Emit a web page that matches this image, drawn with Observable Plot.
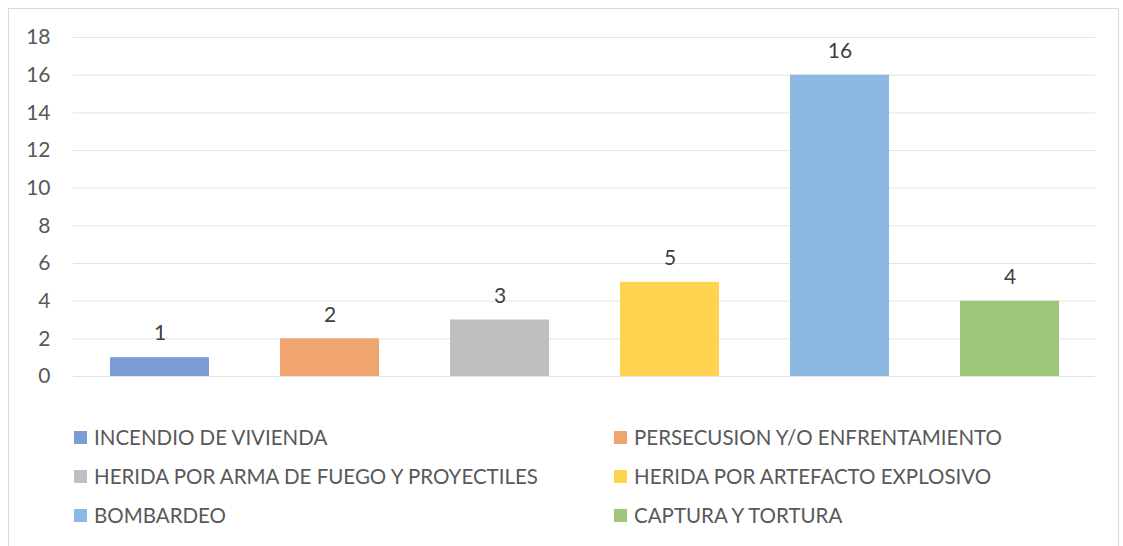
<!DOCTYPE html>
<html>
<head>
<meta charset="utf-8">
<script src="https://cdn.jsdelivr.net/npm/d3@7"></script>
<script src="https://cdn.jsdelivr.net/npm/@observablehq/plot@0.6"></script>
<style>
  html, body { margin: 0; padding: 0; background: #fff; }
  #wrap { position: relative; width: 1123px; height: 546px; overflow: hidden; font-family: Lato, "Liberation Sans", sans-serif; color: #595959; }
  #frame { position: absolute; left: 8px; top: 8px; width: 1111px; height: 560px; border: 1px solid #d9d9d9; box-sizing: border-box; }
  #chart { position: absolute; left: 0; top: 0; }
  .lg { position: absolute; display: flex; align-items: center; font-size: 20.5px; white-space: nowrap; }
  .sw { width: 13px; height: 13px; margin-right: 7px; flex: none; }
</style>
</head>
<body>
<div id="wrap">
  <div id="frame"></div>
  <div id="chart"></div>
  <div id="legend"></div>
</div>
<script>
const categories = [
  "INCENDIO DE VIVIENDA",
  "PERSECUSION Y/O ENFRENTAMIENTO",
  "HERIDA POR ARMA DE FUEGO Y PROYECTILES",
  "HERIDA POR ARTEFACTO EXPLOSIVO",
  "BOMBARDEO",
  "CAPTURA Y TORTURA"
];
const values = [1, 2, 3, 5, 16, 4];
const colors = ["#7B9CD5", "#F0A46E", "#BFBFBF", "#FFD24F", "#8DB8E2", "#9DC67B"];
const yTicks = [0, 2, 4, 6, 8, 10, 12, 14, 16, 18];

const data = categories.map((c, i) => ({category: c, value: values[i]}));

const plot = Plot.plot({
  width: 1123,
  height: 400,
  marginLeft: 73,
  marginRight: 28,
  marginTop: 37,
  marginBottom: 24,
  style: {fontFamily: "Lato, 'Liberation Sans', sans-serif", fontSize: "21px", color: "#595959", background: "transparent"},
  x: {domain: categories, axis: null, paddingInner: 0.42, paddingOuter: 0.21},
  y: {domain: [0, 18], ticks: yTicks, tickSize: 0, tickPadding: 23, label: null},
  color: {domain: categories, range: colors},
  marks: [
    Plot.ruleY(yTicks, {stroke: "#e4e4e4", strokeWidth: 1}),
    Plot.barY(data, {x: "category", y: "value", fill: "category"}),
    Plot.text(data, {x: "category", y: "value", text: d => String(d.value), dy: -24, fill: "#404040", fontSize: 21})
  ]
});
document.getElementById("chart").appendChild(plot);

// Legend (two columns, three rows)
const legend = document.getElementById("legend");
const colX = [74, 614];
const rowY = [437, 476, 515];
categories.forEach((c, i) => {
  const el = document.createElement("div");
  el.className = "lg";
  el.style.left = colX[i % 2] + "px";
  el.style.top = (rowY[Math.floor(i / 2)] - 13) + "px";
  el.style.height = "26px";
  const sw = document.createElement("span");
  sw.className = "sw";
  sw.style.background = colors[i];
  const tx = document.createElement("span");
  tx.textContent = c;
  el.appendChild(sw);
  el.appendChild(tx);
  legend.appendChild(el);
});
</script>
</body>
</html>
